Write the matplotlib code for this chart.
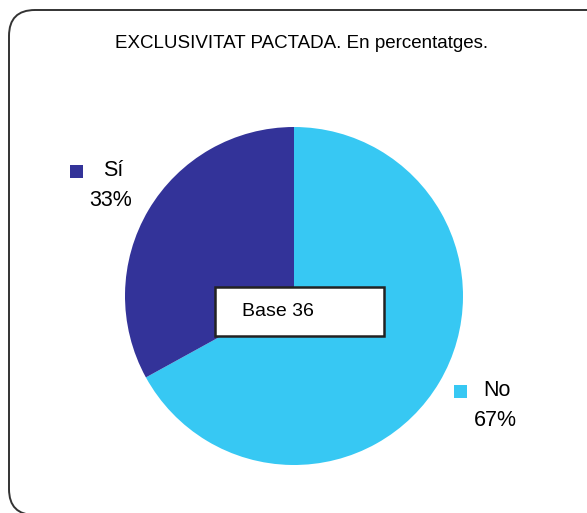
import matplotlib.pyplot as plt
from matplotlib.patches import FancyBboxPatch, Rectangle

plt.rcParams['font.family'] = ['Liberation Sans', 'DejaVu Sans']

# data
labels = ['No', 'Sí']
values = [67, 33]
colors = ['#37C8F3', '#333399']
title = 'EXCLUSIVITAT PACTADA. En percentatges.'
base_text = 'Base 36'

W, H = 587, 513
fig = plt.figure(figsize=(W/100, H/100), dpi=100)
ax = fig.add_axes([0, 0, 1, 1])
ax.set_xlim(0, W)
ax.set_ylim(0, H)
ax.set_aspect('equal')
ax.axis('off')

# rounded frame (cut off at right and bottom)
frame = FancyBboxPatch((9, -2), 610, H - 10 + 2,
                       boxstyle='round,pad=0,rounding_size=26',
                       fc='white', ec='#333333', lw=1.4)
ax.add_patch(frame)

ax.text(302, H - 43, title, ha='center', va='center', fontsize=13.5)

# pie: No starts at 12 o'clock, clockwise
ax.pie(values, colors=colors, startangle=90, counterclock=False,
       center=(294, H - 296), radius=169, frame=True,
       wedgeprops=dict(linewidth=0))
ax.set_xlim(0, W)
ax.set_ylim(0, H)
ax.axis('off')

# labels with squares
lab_pos = {'Sí': (76, 171, 103, 111), 'No': (460, 391, 483, 495)}
for lab, val, col in zip(labels, values, colors):
    mx, my, tx, px = lab_pos[lab]
    ax.add_patch(Rectangle((mx - 6.5, H - my - 6.5), 13, 13, fc=col, ec='none'))
    ax.text(tx, H - my, lab, ha='left', va='center', fontsize=15.5)
    ax.text(px, H - my - 29, f'{val}%', ha='center', va='center', fontsize=15.5)

# base box
ax.add_patch(Rectangle((215, H - 336), 169, 49, fc='white', ec='#222222', lw=1.8))
ax.text(242, H - 311, base_text, ha='left', va='center', fontsize=14)

fig.savefig('out.png', dpi=100)
